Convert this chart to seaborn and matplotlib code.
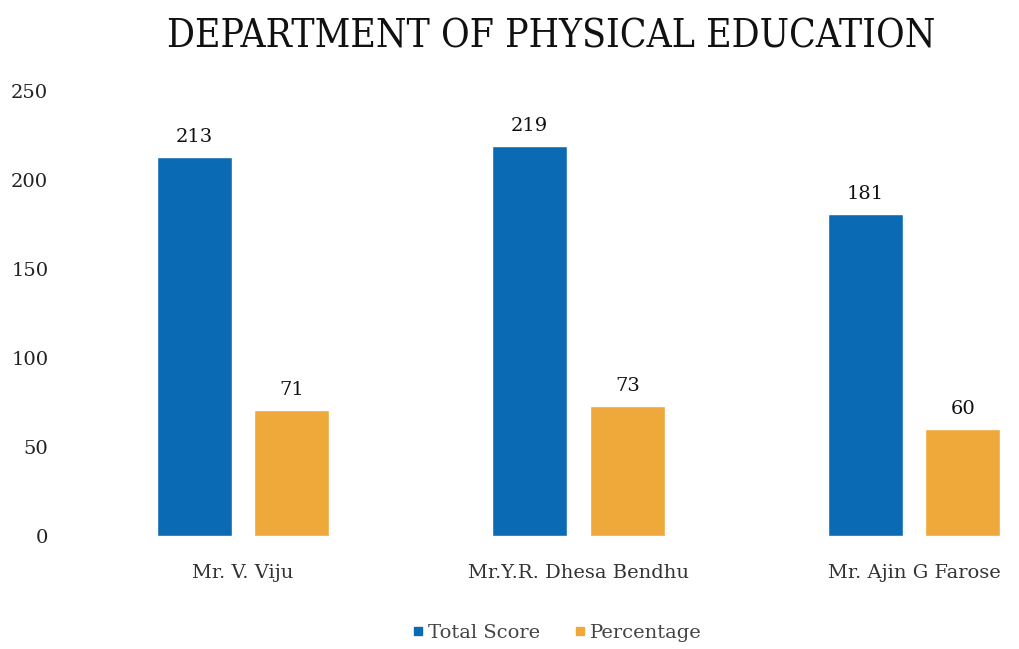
import matplotlib
matplotlib.use("Agg")
import matplotlib.pyplot as plt
import seaborn as sns
import pandas as pd
from matplotlib.lines import Line2D

teachers = ["Mr. V. Viju", "Mr.Y.R. Dhesa Bendhu", "Mr. Ajin G Farose"]
total_score = [213, 219, 181]
percentage = [71, 73, 60]
series_names = ["Total Score", "Percentage"]
colors = ["#0A6BB4", "#EFA93A"]
y_ticks = [0, 50, 100, 150, 200, 250]

df = pd.DataFrame({
    "teacher": teachers * 2,
    "series": [series_names[0]] * 3 + [series_names[1]] * 3,
    "value": total_score + percentage,
})

sns.set_style("white")
serif = ["DejaVu Serif", "Liberation Serif"]
plt.rcParams["font.family"] = serif

fig = plt.figure(figsize=(10.2, 6.49), dpi=100)
ax = fig.add_axes([0.0637, 0.1741, 0.9265, 0.6857])

sns.barplot(data=df, x="teacher", y="value", hue="series", palette=colors,
            width=0.582, gap=0.23, ax=ax, legend=False, saturation=1)

for cont in ax.containers:
    ax.bar_label(cont, padding=8, fontsize=14, color="#111111")

ax.set_ylim(0, 250)
ax.set_xlim(-0.5306, 2.286)
ax.set_yticks(y_ticks)
ax.set_yticklabels([str(t) for t in y_ticks], fontsize=14, color="#222222")
ax.set_xticks(range(len(teachers)))
ax.set_xticklabels(teachers, fontsize=14, color="#333333")
ax.tick_params(axis="y", length=0, pad=12)
ax.tick_params(axis="x", length=0, pad=20)
ax.set_xlabel("")
ax.set_ylabel("")
sns.despine(ax=ax, left=True, bottom=True)

# condensed serif for the tall, narrow title
fig.suptitle("DEPARTMENT OF PHYSICAL EDUCATION", x=0.540, y=0.972,
             fontsize=28, fontstretch="condensed", color="#111111")

handles = [Line2D([], [], marker="s", linestyle="", markersize=6,
                  color=c) for c in colors]
fig.legend(handles, series_names, loc="center",
           bbox_to_anchor=(555 / 1020, 1 - 633 / 649), ncol=2, frameon=False,
           handletextpad=0.0, columnspacing=1.6, handlelength=1.0,
           prop={"size": 14, "family": serif})
for t in fig.legends[0].get_texts():
    t.set_color("#444444")

fig.savefig("out.png", dpi=100)
